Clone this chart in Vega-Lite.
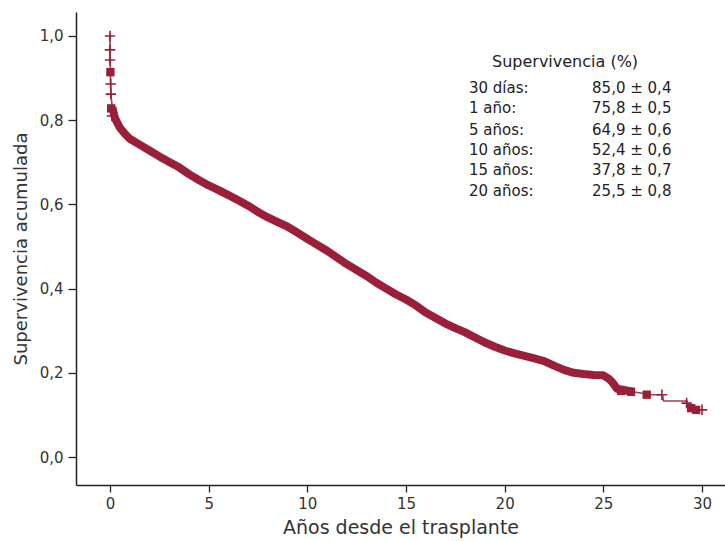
{
  "$schema": "https://vega.github.io/schema/vega-lite/v6.json",
  "autosize": "none",
  "width": 649,
  "height": 473,
  "padding": {"left": 76, "top": 12, "right": 0, "bottom": 56},
  "background": "white",
  "config": {
    "view": {"stroke": null},
    "font": "DejaVu Sans",
    "axis": {"grid": false, "domainColor": "#222", "domainWidth": 1.5, "tickColor": "#222", "tickWidth": 1.3, "labelColor": "#333", "labelFont": "DejaVu Sans", "labelFontSize": 15, "titleColor": "#333", "titleFont": "DejaVu Sans", "titleFontWeight": "normal"}
  },
  "datasets": {
    "curve": [
      {"t": 0, "s": 1.0}, {"t": 0, "s": 0.97}, {"t": 0.01, "s": 0.94}, {"t": 0.02, "s": 0.91},
      {"t": 0.04, "s": 0.88}, {"t": 0.07, "s": 0.85}, {"t": 0.12, "s": 0.83}, {"t": 0.25, "s": 0.805},
      {"t": 0.5, "s": 0.782}, {"t": 0.75, "s": 0.768}, {"t": 1.0, "s": 0.756}, {"t": 1.5, "s": 0.742},
      {"t": 2, "s": 0.728}, {"t": 2.5, "s": 0.714}, {"t": 3, "s": 0.701}, {"t": 3.5, "s": 0.688},
      {"t": 4, "s": 0.672}, {"t": 4.5, "s": 0.658}, {"t": 5, "s": 0.645}, {"t": 5.5, "s": 0.634},
      {"t": 6, "s": 0.622}, {"t": 6.5, "s": 0.61}, {"t": 7, "s": 0.597}, {"t": 7.5, "s": 0.582},
      {"t": 8, "s": 0.569}, {"t": 8.5, "s": 0.558}, {"t": 9, "s": 0.547}, {"t": 9.5, "s": 0.533},
      {"t": 10, "s": 0.518}, {"t": 10.5, "s": 0.504}, {"t": 11, "s": 0.49}, {"t": 11.5, "s": 0.474},
      {"t": 12, "s": 0.458}, {"t": 12.5, "s": 0.444}, {"t": 13, "s": 0.43}, {"t": 13.5, "s": 0.414},
      {"t": 14, "s": 0.4}, {"t": 14.5, "s": 0.386}, {"t": 15, "s": 0.374}, {"t": 15.5, "s": 0.36},
      {"t": 16, "s": 0.343}, {"t": 16.5, "s": 0.33}, {"t": 17, "s": 0.317}, {"t": 17.5, "s": 0.306},
      {"t": 18, "s": 0.296}, {"t": 18.5, "s": 0.284}, {"t": 19, "s": 0.272}, {"t": 19.5, "s": 0.262},
      {"t": 20, "s": 0.253}, {"t": 20.5, "s": 0.246}, {"t": 21, "s": 0.24}, {"t": 21.5, "s": 0.234},
      {"t": 22, "s": 0.228}, {"t": 22.5, "s": 0.217}, {"t": 23, "s": 0.207}, {"t": 23.5, "s": 0.2},
      {"t": 24, "s": 0.197}, {"t": 24.5, "s": 0.195}, {"t": 25, "s": 0.194}, {"t": 25.3, "s": 0.185},
      {"t": 25.5, "s": 0.175}, {"t": 25.7, "s": 0.162}, {"t": 26.5, "s": 0.155}, {"t": 27.4, "s": 0.148},
      {"t": 28.0, "s": 0.148}, {"t": 28.05, "s": 0.133}, {"t": 29.25, "s": 0.133}, {"t": 29.3, "s": 0.118},
      {"t": 29.45, "s": 0.112}, {"t": 30.0, "s": 0.112}
    ],
    "squares": [
      {"t": 0.02, "s": 0.914}, {"t": 0.06, "s": 0.828}, {"t": 25.9, "s": 0.157}, {"t": 26.4, "s": 0.155},
      {"t": 27.2, "s": 0.148}, {"t": 29.45, "s": 0.116}, {"t": 29.7, "s": 0.112}
    ],
    "crosses": [
      {"t": 0, "s": 1.0}, {"t": 0, "s": 0.967}, {"t": 0, "s": 0.943}, {"t": 0.03, "s": 0.886},
      {"t": 0.04, "s": 0.862}, {"t": 0.1, "s": 0.81}, {"t": 27.97, "s": 0.148}, {"t": 29.22, "s": 0.128},
      {"t": 30.0, "s": 0.112}
    ],
    "legendTitle": [
      {"t": 23.06, "s": 0.938, "txt": "Supervivencia (%)"}
    ],
    "legend": [
      {"t": 18.19, "s": 0.8765, "txt": "30 días:"},
      {"t": 18.19, "s": 0.829, "txt": "1 año:"},
      {"t": 18.19, "s": 0.777, "txt": "5 años:"},
      {"t": 18.19, "s": 0.729, "txt": "10 años:"},
      {"t": 18.19, "s": 0.682, "txt": "15 años:"},
      {"t": 18.19, "s": 0.632, "txt": "20 años:"},
      {"t": 24.43, "s": 0.8765, "txt": "85,0 ± 0,4"},
      {"t": 24.43, "s": 0.829, "txt": "75,8 ± 0,5"},
      {"t": 24.43, "s": 0.777, "txt": "64,9 ± 0,6"},
      {"t": 24.43, "s": 0.729, "txt": "52,4 ± 0,6"},
      {"t": 24.43, "s": 0.682, "txt": "37,8 ± 0,7"},
      {"t": 24.43, "s": 0.632, "txt": "25,5 ± 0,8"}
    ]
  },
  "encoding": {
    "x": {"field": "t", "type": "quantitative", "scale": {"domain": [-1.723, 31.166], "nice": false, "zero": false},
      "axis": {"values": [0, 5, 10, 15, 20, 25, 30], "title": "Años desde el trasplante", "titleFontSize": 19, "tickSize": 7, "titlePadding": 7, "labelPadding": 4}},
    "y": {"field": "s", "type": "quantitative", "scale": {"domain": [-0.0665, 1.057], "nice": false, "zero": false},
      "axis": {"values": [0, 0.2, 0.4, 0.6, 0.8, 1.0], "title": "Supervivencia acumulada", "titleFontSize": 18, "tickSize": 8, "labelExpr": "replace(format(datum.value, '.1f'), '.', ',')", "titlePadding": 9, "labelPadding": 5}}
  },
  "layer": [
    {"data": {"name": "curve"}, "mark": {"type": "line", "color": "#a0404f", "strokeWidth": 1.6}},
    {"data": {"name": "curve"}, "transform": [{"filter": "datum.t >= 0.1 && datum.t <= 26.5"}],
      "mark": {"type": "line", "color": "#9a1f38", "strokeWidth": 8, "strokeCap": "butt", "strokeJoin": "round"}},
    {"data": {"name": "squares"}, "mark": {"type": "point", "shape": "square", "filled": true, "size": 70, "color": "#9a1f38", "opacity": 1}},
    {"data": {"name": "crosses"}, "mark": {"type": "point", "shape": "M-1,0L1,0M0,-1L0,1", "filled": false, "size": 110, "color": "#9a1f38", "strokeWidth": 1.6, "opacity": 1}},
    {"data": {"name": "legendTitle"}, "mark": {"type": "text", "font": "DejaVu Sans", "fontSize": 16, "color": "#222", "baseline": "middle", "align": "center"},
      "encoding": {"text": {"field": "txt"}}},
    {"data": {"name": "legend"}, "mark": {"type": "text", "font": "DejaVu Sans", "fontSize": 15, "color": "#222", "baseline": "middle", "align": "left"},
      "encoding": {"text": {"field": "txt"}}}
  ]
}
